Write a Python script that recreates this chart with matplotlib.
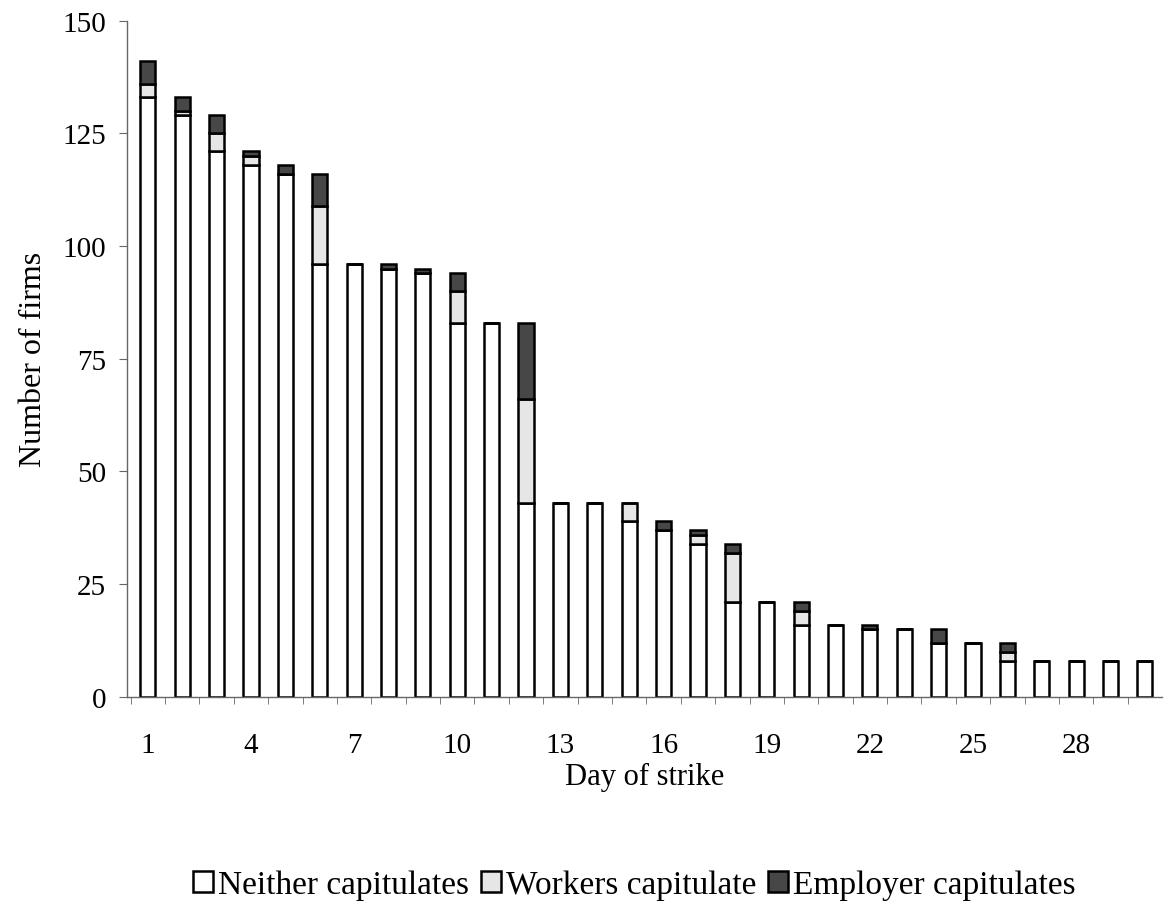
import numpy as np
import matplotlib
matplotlib.use('Agg')
import matplotlib.pyplot as plt

plt.rcParams['font.family'] = ['Liberation Serif', 'DejaVu Serif']

days = list(range(1, 31))
neither = [133, 129, 121, 118, 116, 96, 96, 95, 94, 83,
           83, 43, 43, 43, 39, 37, 34, 21, 21, 16,
           16, 15, 15, 12, 12, 8, 8, 8, 8, 8]
workers = [3, 1, 4, 2, 0, 13, 0, 0, 0, 7,
           0, 23, 0, 0, 4, 0, 2, 11, 0, 3,
           0, 0, 0, 0, 0, 2, 0, 0, 0, 0]
employer = [5, 3, 4, 1, 2, 7, 0, 1, 1, 4,
            0, 17, 0, 0, 0, 2, 1, 2, 0, 2,
            0, 1, 0, 3, 0, 2, 0, 0, 0, 0]
tick_days = [1, 4, 7, 10, 13, 16, 19, 22, 25, 28]

fig = plt.figure(figsize=(11.75, 9.04), dpi=100)
ax = fig.add_axes([0.108, 0.228, 0.881, 0.748])

x = np.array(days)
neither = np.array(neither)
workers = np.array(workers)
employer = np.array(employer)
w = 0.44
ax.bar(x, neither, w, color='white', edgecolor='black', linewidth=1.8, label='Neither capitulates')
ax.bar(x, workers, w, bottom=neither, color='#e6e6e6', edgecolor='black', linewidth=1.8, label='Workers capitulate')
ax.bar(x, employer, w, bottom=neither + workers, color='#474747', edgecolor='black', linewidth=1.8, label='Employer capitulates')

ax.set_xlim(0.39, 30.5)
ax.set_ylim(0, 150)
ax.set_yticks([0, 25, 50, 75, 100, 125, 150])
ax.set_xticks(tick_days)
ax.set_xticks(np.arange(0.5, 30.5, 1), minor=True)
ax.tick_params(axis='x', which='major', length=0, pad=25, labelsize=21)
ax.tick_params(axis='x', which='minor', length=5, direction='out', color='#666666')
ax.tick_params(axis='y', length=6, pad=9, labelsize=21, color='#666666')

for s in ['top', 'right']:
    ax.spines[s].set_visible(False)
for s in ['left', 'bottom']:
    ax.spines[s].set_color('#666666')
    ax.spines[s].set_linewidth(1.0)

ax.set_xlabel('Day of strike', fontsize=22, labelpad=3)
ax.set_ylabel('Number of firms', fontsize=23, labelpad=10)

ax.legend(loc='center', bbox_to_anchor=(0.49, -0.278), ncol=3, frameon=False,
          fontsize=24, handlelength=0.6, handleheight=0.6, handletextpad=0.15,
          columnspacing=0.35, borderaxespad=0)

fig.savefig('out.png', dpi=100)
